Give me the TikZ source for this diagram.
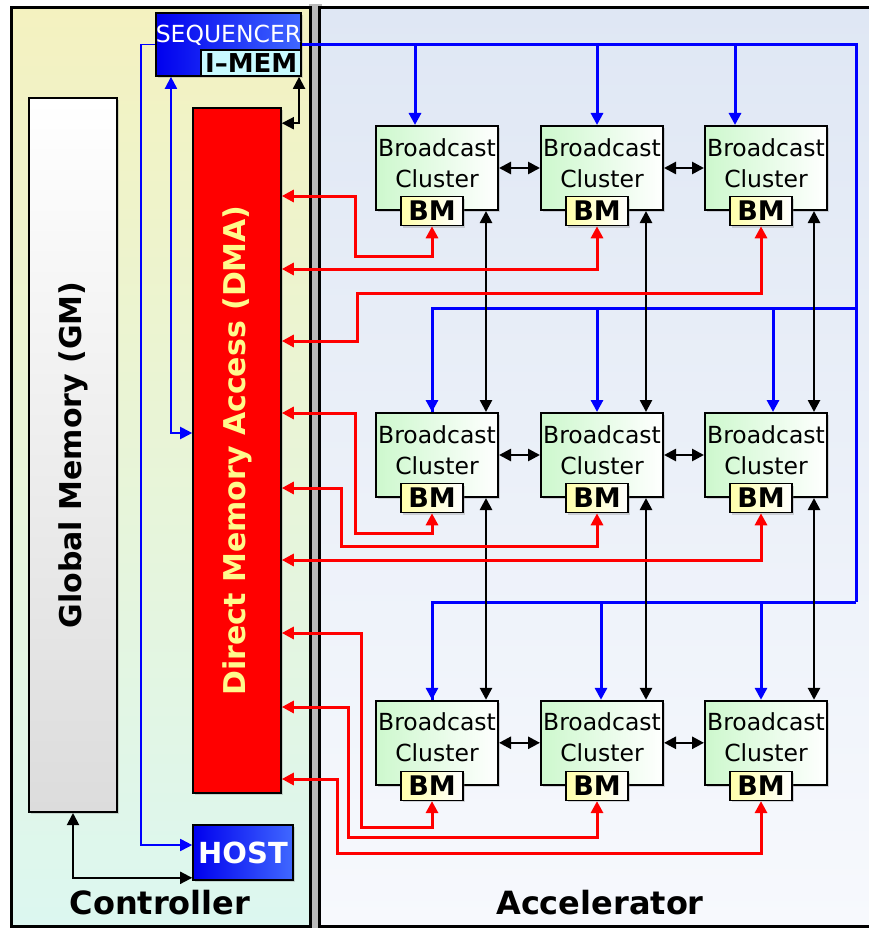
\documentclass[tikz,border=0pt]{standalone}
\usepackage{fontspec}
\setmainfont{DejaVu Sans}
\usetikzlibrary{arrows.meta,shadows}
\definecolor{ctrltop}{RGB}{244,242,192}
\definecolor{ctrlbot}{RGB}{220,247,240}
\definecolor{acctop}{RGB}{223,231,244}
\definecolor{accbot}{RGB}{247,249,253}
\definecolor{seqblue}{RGB}{0,0,238}
\definecolor{seqlight}{RGB}{64,104,255}
\definecolor{imemcyan}{RGB}{200,250,255}
\definecolor{dmatext}{RGB}{255,250,140}
\definecolor{clgreen}{RGB}{205,248,205}
\definecolor{bmyellow}{RGB}{255,255,170}
\definecolor{gmgray}{RGB}{220,220,220}

\begin{document}
\begin{tikzpicture}[x=1pt,y=-1pt,
    >={Triangle[length=12pt,width=12pt]},
    box/.style={draw=black,line width=2pt,inner sep=0pt,
      drop shadow={opacity=.3,shadow xshift=2pt,shadow yshift=-2pt}},
    cluster/.style={box,minimum width=122pt,minimum height=84pt,left color=clgreen,right color=white,
      align=center,text height=42pt,text depth=4pt,font=\fontsize{23.5}{31}\selectfont},
    bmbox/.style={box,line width=1.6pt,minimum width=62pt,minimum height=29pt,left color=bmyellow,right color=white,
      font=\bfseries\fontsize{27}{27}\selectfont},
    bluebox/.style={box,line width=1.6pt,left color=seqblue,right color=seqlight,text=white},
    ctl/.style={draw=blue,line width=3pt},
    thinctl/.style={draw=blue,line width=1.7pt},
    dat/.style={draw=black,line width=2.6pt},
    mem/.style={draw=red,line width=3pt}]
  \useasboundingbox (0,0) rectangle (869,928);
  % panels
  \fill[gray!55] (309,4) rectangle (322,928);
  \draw[line width=3pt,top color=ctrltop,bottom color=ctrlbot] (11,8) rectangle (310.5,926);
  \draw[line width=3pt,top color=acctop,bottom color=accbot] (319.5,8) rectangle (880,926);
  \node[font=\bfseries\fontsize{32}{32}\selectfont] (ctrllabel) at (160,903) {Controller};
  \node[font=\bfseries\fontsize{32}{32}\selectfont] (acclabel) at (600,903) {Accelerator};

  % controller
  \node[box,minimum width=88pt,minimum height=714pt,top color=white,bottom color=gmgray,
    font=\bfseries\fontsize{30}{30}\selectfont] (gm) at (73,455) {\rotatebox{90}{Global Memory (GM)}};
  \node[box,line width=1.6pt,minimum width=88pt,minimum height=685pt,fill=red,text=dmatext,
    font=\bfseries\fontsize{30}{30}\selectfont] (dma) at (237,450.5) {\rotatebox{90}{Direct Memory Access (DMA)}};
  \node[bluebox,minimum width=143pt,minimum height=63pt,text height=18pt,text depth=21pt,
    font=\fontsize{23.5}{23.5}\selectfont] (seq) at (228.5,44.5) {SEQUENCER};
  \node[draw=black,line width=1.6pt,inner sep=0pt,minimum width=100pt,minimum height=26pt,fill=imemcyan,
    anchor=south east,font=\bfseries\fontsize{26}{26}\selectfont] (imem) at (seq.south east) {I--MEM};
  \node[bluebox,minimum width=100pt,minimum height=55pt,font=\bfseries\fontsize{29}{29}\selectfont] (host) at (243,852.5) {HOST};

  \draw[dat,line width=1.9pt,<->] (gm.south) |- ([yshift=3pt]host.south west);
  \draw[thinctl,->] (seq.west) -- ++(-14,0) |- ([yshift=7.5pt]host.west);
  \draw[thinctl,line width=2pt,<->] ([xshift=16pt]seq.south west) |- ([yshift=17.5pt]dma.west);
  \draw[dat,line width=1.9pt,<->] ([xshift=-3pt]imem.south east) |- ([yshift=-16pt]dma.north east);

  % accelerator
  \foreach \r/\y in {1/168,2/455,3/742.8}
    \foreach \c/\x in {1/437,2/602,3/766}{
      \node[cluster] (c\r\c) at (\x,\y) {Broadcast\\Cluster};
      \node[bmbox] (bm\r\c) at ([xshift=-5pt]c\r\c.south) {BM};
    }

  \coordinate (bus1) at (856,44.5);
  \coordinate (bus2) at (856,308);
  \coordinate (bus3) at (856,602);
  \draw[ctl] (seq.east) -- (bus1) -- (bus3);
  \foreach \r/\c/\dx in {1/1/-22,1/2/-5,1/3/-31,2/1/-5,2/2/-5,2/3/7,3/1/-5,3/2/-1,3/3/-5}{
    \path ([xshift=\dx pt]c\r\c.north) coordinate (d\r\c);
    \draw[ctl,->] (d\r\c |- bus\r) -- (d\r\c);
  }
  \draw[ctl] (bus2) -| (d21);
  \draw[ctl] (bus3) -| (d31);

  \foreach \c/\dx in {1/49,2/44,3/48}{
    \draw[dat,<->] ([xshift=\dx pt]c1\c.south) -- ([xshift=\dx pt]c2\c.north);
    \draw[dat,<->] ([xshift=\dx pt]c2\c.south) -- ([xshift=\dx pt]c3\c.north);
  }
  \foreach \r in {1,2,3}{
    \draw[dat,<->] (c\r1.east) -- (c\r2.west);
    \draw[dat,<->] (c\r2.east) -- (c\r3.west);
  }

  \foreach \r/\c/\yd/\xt/\ya in {1/1/256/355/196,1/2/269/355/269,1/3/293/357/341,
      2/1/533/355/413,2/2/546/341/488,2/3/560/341/560,
      3/1/827/361/633,3/2/837/348/707,3/3/853/337/779}
    \draw[mem,<->] (bm\r\c.south) |- (\xt,\yd) |- (dma.east |- 0,\ya);
\end{tikzpicture}
\end{document}
